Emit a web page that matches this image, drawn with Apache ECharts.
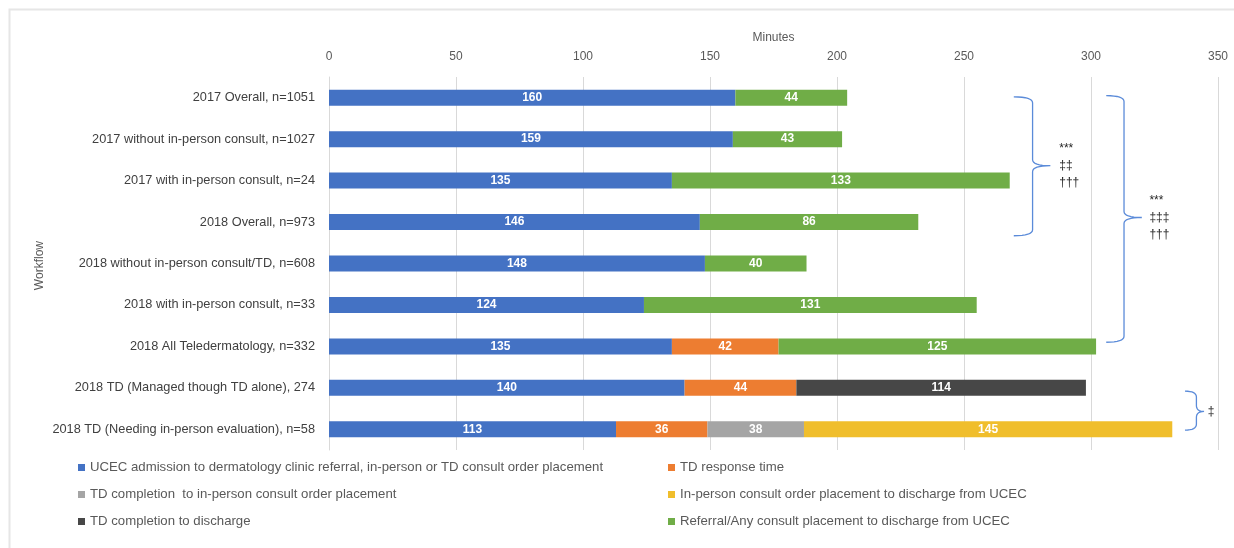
<!DOCTYPE html>
<html>
<head>
<meta charset="utf-8">
<script src="https://cdn.jsdelivr.net/npm/echarts@6/dist/echarts.min.js"></script>
<style>
html,body{margin:0;padding:0;background:#fff;}
#chart{width:1234px;height:548px;}
</style>
</head>
<body>
<div id="chart"></div>
<script>
const categories = [
  "2017 Overall, n=1051",
  "2017 without in-person consult, n=1027",
  "2017 with in-person consult, n=24",
  "2018 Overall, n=973",
  "2018 without in-person consult/TD, n=608",
  "2018 with in-person consult, n=33",
  "2018 All Teledermatology, n=332",
  "2018 TD (Managed though TD alone), 274",
  "2018 TD (Needing in-person evaluation), n=58"
];
const seriesNames = [
  "UCEC admission to dermatology clinic referral, in-person or TD consult order placement",
  "TD response time",
  "TD completion  to in-person consult order placement",
  "In-person consult order placement to discharge from UCEC",
  "TD completion to discharge",
  "Referral/Any consult placement to discharge from UCEC"
];
const admissionToReferral = [160, 159, 135, 146, 148, 124, 135, 140, 113];
const tdResponse          = [null, null, null, null, null, null, 42, 44, 36];
const tdToInPerson        = [null, null, null, null, null, null, null, null, 38];
const inPersonToDischarge = [null, null, null, null, null, null, null, null, 145];
const tdToDischarge       = [null, null, null, null, null, null, null, 114, null];
const referralToDischarge = [44, 43, 133, 86, 40, 131, 125, null, null];
const xTicks = [0, 50, 100, 150, 200, 250, 300, 350];

const colors = ["#4472C4", "#ED7D31", "#A5A5A5", "#F0BE2C", "#474747", "#70AD47"];
const allData = [admissionToReferral, tdResponse, tdToInPerson, inPersonToDischarge, tdToDischarge, referralToDischarge];

const FONT = "'Liberation Sans', Arial, sans-serif";

const chart = echarts.init(document.getElementById('chart'));
const series = seriesNames.map((name, i) => ({
  name: name,
  type: 'bar',
  stack: 'total',
  barWidth: 16,
  data: allData[i],
  itemStyle: { color: colors[i] },
  label: {
    show: true,
    position: 'inside',
    color: '#ffffff',
    fontFamily: FONT,
    fontSize: 12,
    fontWeight: 'bold',
    formatter: p => (p.value == null ? '' : p.value)
  }
}));

chart.setOption({
  animation: false,
  backgroundColor: '#ffffff',
  grid: { left: 329, right: 16, top: 77, bottom: 98, containLabel: false },
  xAxis: {
    type: 'value',
    position: 'top',
    min: xTicks[0],
    max: xTicks[xTicks.length - 1],
    interval: 50,
    name: 'Minutes',
    nameLocation: 'middle',
    nameGap: 33,
    nameTextStyle: { color: '#595959', fontFamily: FONT, fontSize: 12 },
    axisLine: { show: false },
    axisTick: { show: false },
    axisLabel: { color: '#595959', fontFamily: FONT, fontSize: 12, margin: 14 },
    splitLine: { show: true, lineStyle: { color: '#d9d9d9', width: 1 } }
  },
  yAxis: {
    type: 'category',
    data: categories,
    inverse: true,
    axisLine: { show: true, lineStyle: { color: '#d9d9d9' } },
    axisTick: { show: false },
    axisLabel: { color: '#404040', fontFamily: FONT, fontSize: 12.75, margin: 14 }
  },
  legend: [
    {
      orient: 'vertical', left: 73, top: 455, itemWidth: 7, itemHeight: 7, itemGap: 12,
      data: [seriesNames[0], seriesNames[2], seriesNames[4]],
      textStyle: { color: '#595959', fontFamily: FONT, fontSize: 13.2, lineHeight: 15 }, icon: 'rect', selectedMode: false
    },
    {
      orient: 'vertical', left: 663, top: 455, itemWidth: 7, itemHeight: 7, itemGap: 12,
      data: [seriesNames[1], seriesNames[3], seriesNames[5]],
      textStyle: { color: '#595959', fontFamily: FONT, fontSize: 13.2, lineHeight: 15 }, icon: 'rect', selectedMode: false
    }
  ],
  series: series
});

// Annotation braces positioned via the chart's axes
function px(xVal) { return chart.convertToPixel({ xAxisIndex: 0 }, xVal); }
const y0 = chart.convertToPixel({ yAxisIndex: 0 }, categories[0]);
const y1 = chart.convertToPixel({ yAxisIndex: 0 }, categories[1]);
function py(idx) { return y0 + idx * (y1 - y0); }

function quad(p0, c, p1, n) {
  const pts = [];
  for (let k = 1; k <= n; k++) {
    const t = k / n, u = 1 - t;
    pts.push([u * u * p0[0] + 2 * u * t * c[0] + t * t * p1[0], u * u * p0[1] + 2 * u * t * c[1] + t * t * p1[1]]);
  }
  return pts;
}

const braces = [
  { tip: 269.6, spine: 277, point: 284, top: -0.02, bot: 3.33, mid: 1.64, textX: 287.5, text: '***\n‡‡\n†††' },
  { tip: 306, spine: 313, point: 320, top: -0.05, bot: 5.9, mid: 2.89, textX: 323, text: '***\n‡‡‡\n†††' },
  { tip: 337, spine: 341.5, point: 344.5, top: 7.08, bot: 8.02, mid: 7.57, textX: 346, text: '‡' }
];
const graphics = [{
  type: 'rect', shape: { x: 9.5, y: 9.5, width: 1400, height: 700 },
  style: { fill: 'none', stroke: '#e6e6e6', lineWidth: 2 }, silent: true, z: -1
}, {
  type: 'text', x: 40, y: py(4.05), rotation: Math.PI / 2,
  style: { text: 'Workflow', fill: '#595959', font: "12px " + FONT, align: 'center', verticalAlign: 'middle' },
  silent: true
}];
braces.forEach(b => {
  const xt = px(b.tip), xs = px(b.spine), xp = px(b.point);
  const yt = py(b.top), yb = py(b.bot), ym = py(b.mid);
  const r = Math.min(6, (yb - yt) / 6);
  let pts = [[xt, yt]];
  pts = pts.concat(quad([xt, yt], [xs, yt], [xs, yt + r], 8));
  pts.push([xs, ym - r]);
  pts = pts.concat(quad([xs, ym - r], [xs, ym], [xp, ym], 8));
  pts = pts.concat(quad([xp, ym], [xs, ym], [xs, ym + r], 8));
  pts.push([xs, yb - r]);
  pts = pts.concat(quad([xs, yb - r], [xs, yb], [xt, yb], 8));
  graphics.push({
    type: 'polyline', shape: { points: pts },
    style: { fill: null, stroke: '#5B8BD9', lineWidth: 1.3 }, silent: true
  });
  graphics.push({
    type: 'text', x: px(b.textX), y: ym,
    style: { text: b.text, fill: '#262626', font: "12px " + FONT, lineHeight: 17, verticalAlign: 'middle', align: 'left' },
    silent: true
  });
});
chart.setOption({ graphic: graphics });
</script>
</body>
</html>
